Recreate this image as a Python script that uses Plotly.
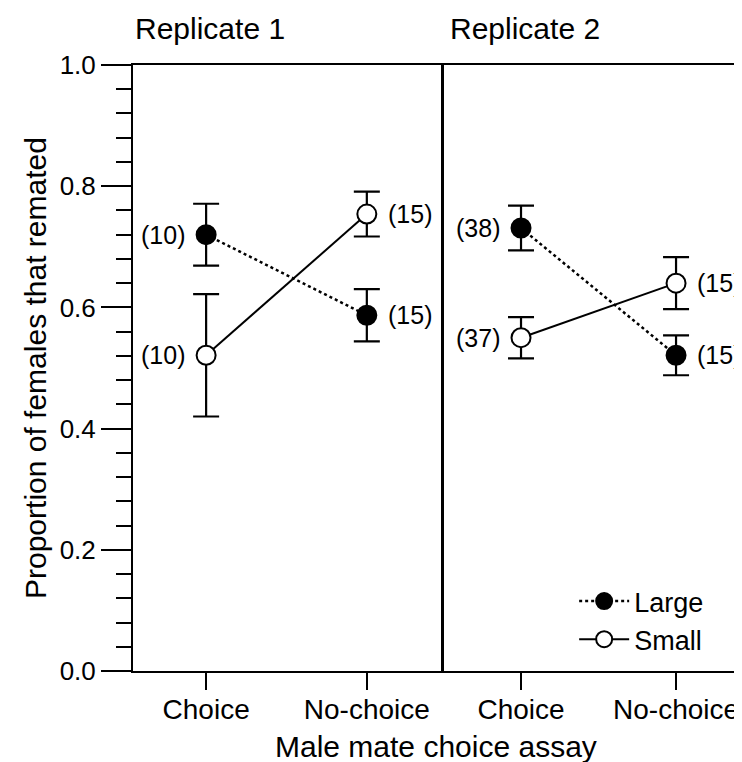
import plotly.graph_objects as go

categories = ["Choice", "No-choice"]
panels = ["Replicate 1", "Replicate 2"]

# Replicate 1
r1_large = [0.720, 0.587]
r1_large_err = [0.051, 0.043]
r1_large_n = [10, 15]
r1_small = [0.521, 0.754]
r1_small_err = [0.101, 0.037]
r1_small_n = [10, 15]

# Replicate 2
r2_large = [0.731, 0.521]
r2_large_err = [0.037, 0.033]
r2_large_n = [38, 15]
r2_small = [0.550, 0.640]
r2_small_err = [0.034, 0.043]
r2_small_n = [37, 15]

y_ticks = [0.0, 0.2, 0.4, 0.6, 0.8, 1.0]

FONT = "Liberation Sans, Arial, Helvetica, sans-serif"
BLACK = "#000000"

fig = go.Figure()

series = [
    ("x", "y", r1_large, r1_large_err, "Large", True, True),
    ("x", "y", r1_small, r1_small_err, "Small", False, True),
    ("x2", "y2", r2_large, r2_large_err, "Large", True, False),
    ("x2", "y2", r2_small, r2_small_err, "Small", False, False),
]

for xa, ya, vals, errs, name, filled, show in series:
    fig.add_trace(go.Scatter(
        x=categories, y=vals, xaxis=xa, yaxis=ya,
        mode="lines+markers", name=name, showlegend=show, legendrank=1 if filled else 2,
        line=dict(color=BLACK, width=2.5 if filled else 2, dash="dot" if filled else "solid"),
        marker=dict(size=19, color=BLACK if filled else "white",
                    line=dict(color=BLACK, width=2), symbol="circle"),
        error_y=dict(type="data", array=errs, visible=True, color=BLACK,
                     thickness=2.2, width=13),
    ))

annotations = []
for xa, ya, vals, ns in [("x", "y", r1_large, r1_large_n), ("x", "y", r1_small, r1_small_n),
                         ("x2", "y2", r2_large, r2_large_n), ("x2", "y2", r2_small, r2_small_n)]:
    for i, (v, n) in enumerate(zip(vals, ns)):
        left = (i == 0)
        annotations.append(dict(
            x=categories[i], y=v, xref=xa, yref=ya, text=f"({n})", showarrow=False,
            xanchor="right" if left else "left", yanchor="middle",
            xshift=-19 if left else 19, font=dict(size=25, color=BLACK, family=FONT)))

# Panel titles
annotations.append(dict(x=0, y=1, xref="x domain", yref="paper", text=panels[0],
                        showarrow=False, xanchor="left", yanchor="bottom", yshift=18,
                        font=dict(size=30, color=BLACK, family=FONT)))
annotations.append(dict(x=0, y=1, xref="x2 domain", yref="paper", text=panels[1],
                        showarrow=False, xanchor="left", yanchor="bottom", yshift=18, xshift=4,
                        font=dict(size=30, color=BLACK, family=FONT)))
# Axis titles
annotations.append(dict(x=0.491, y=0, xref="paper", yref="paper", text="Male mate choice assay",
                        showarrow=False, xanchor="center", yanchor="top", yshift=-57,
                        font=dict(size=30, color=BLACK, family=FONT)))
annotations.append(dict(x=0, y=0.5, xref="paper", yref="paper",
                        text="Proportion of females that remated", textangle=-90,
                        showarrow=False, xanchor="center", yanchor="middle", xshift=-98,
                        font=dict(size=30, color=BLACK, family=FONT)))

xcommon = dict(type="category", showline=True, linecolor=BLACK, linewidth=2, mirror=True,
               ticks="outside", ticklen=17, tickwidth=2, tickcolor=BLACK, ticklabelstandoff=-5,
               tickfont=dict(size=28, color=BLACK, family=FONT), showgrid=False, zeroline=False)

fig.update_layout(
    width=742, height=762,
    margin=dict(l=125, r=0, t=57, b=99),
    paper_bgcolor="white", plot_bgcolor="white",
    font=dict(family=FONT, color=BLACK),
    xaxis=dict(domain=[0, 0.504], range=[-0.455, 1.48], anchor="y", **xcommon),
    xaxis2=dict(domain=[0.504, 1.0], range=[-0.497, 1.477], anchor="y2", **xcommon),
    yaxis=dict(domain=[0, 1], range=[0, 1.0], anchor="x", showline=True, linecolor=BLACK,
               linewidth=2, ticks="outside", ticklen=30, tickwidth=2, tickcolor=BLACK,
               tickvals=y_ticks, ticktext=[f"{t:.1f}" for t in y_ticks],
               tickfont=dict(size=26, color=BLACK, family=FONT),
               minor=dict(ticks="outside", ticklen=15, tickwidth=2, tickcolor=BLACK,
                          dtick=0.04, tick0=0, showgrid=False),
               showgrid=False, zeroline=False),
    yaxis2=dict(domain=[0, 1], range=[0, 1.0], anchor="x2", showline=True, linecolor=BLACK,
                linewidth=3, ticks="", showticklabels=False, showgrid=False, zeroline=False),
    legend=dict(x=0.715, y=0.155, xanchor="left", yanchor="top",
                bgcolor="rgba(0,0,0,0)", font=dict(size=27, color=BLACK, family=FONT),
                itemwidth=50, tracegroupgap=0),
    annotations=annotations,
)

fig.write_html("out.html")
